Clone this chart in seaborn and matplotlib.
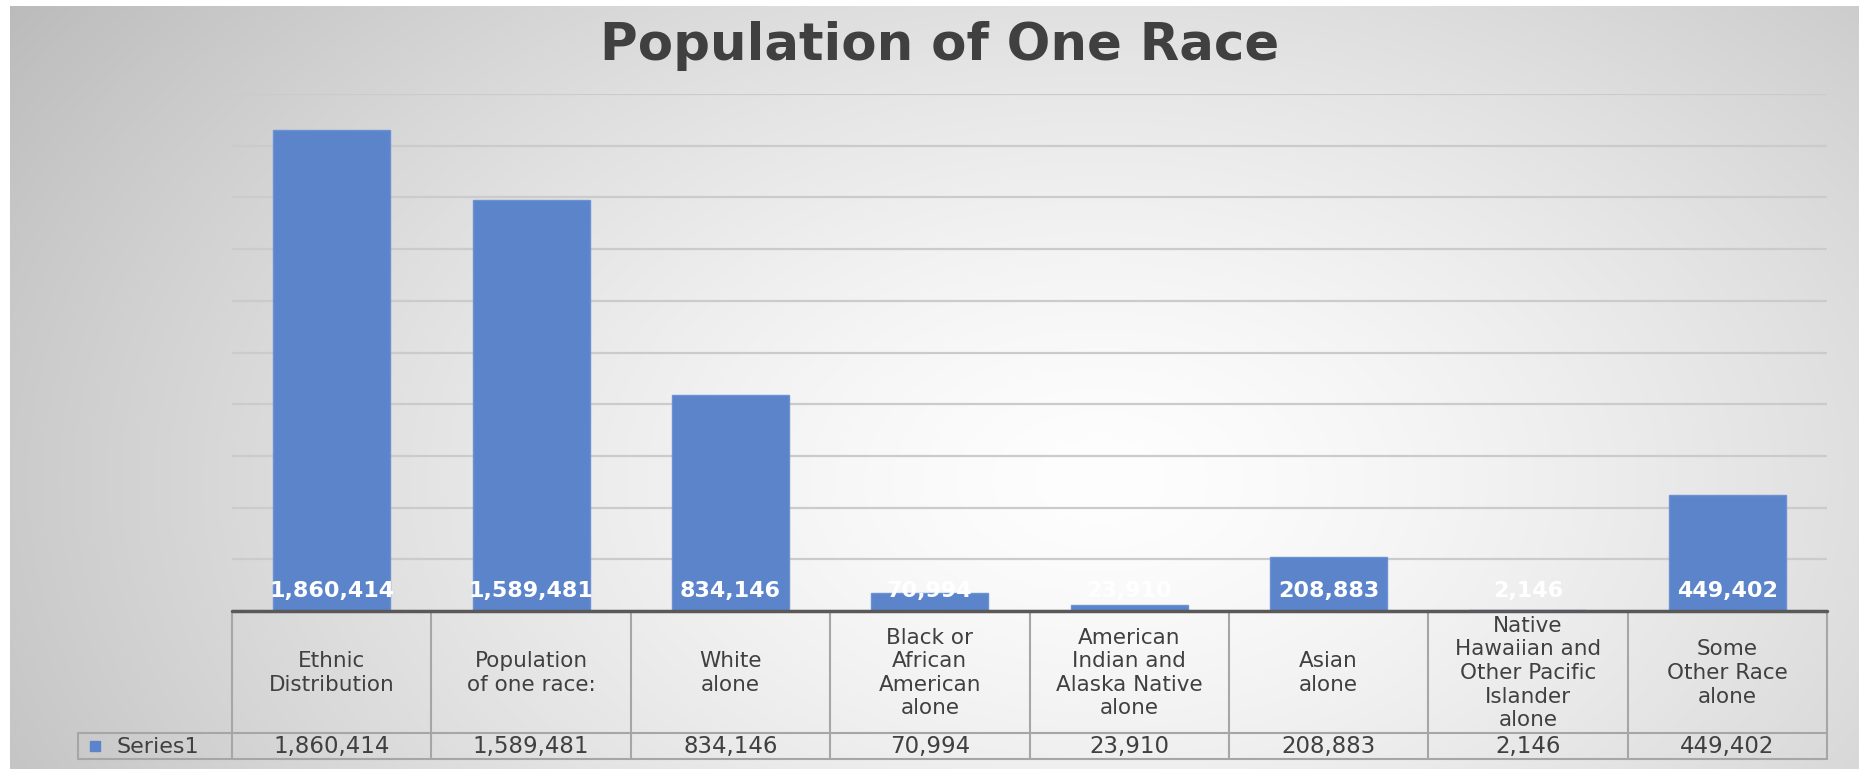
import numpy as np
import pandas as pd
import matplotlib
matplotlib.use("Agg")
import matplotlib.pyplot as plt
import seaborn as sns

# ---- data ----
categories = [
    "Ethnic\nDistribution",
    "Population\nof one race:",
    "White\nalone",
    "Black or\nAfrican\nAmerican\nalone",
    "American\nIndian and\nAlaska Native\nalone",
    "Asian\nalone",
    "Native\nHawaiian and\nOther Pacific\nIslander\nalone",
    "Some\nOther Race\nalone",
]
population = [1860414, 1589481, 834146, 70994, 23910, 208883, 2146, 449402]
series_name = "Series1"
title_text = "Population of One Race"

BAR_COLOR = "#5b84cb"
TEXT_COLOR = "#404040"
GRID_COLOR = "#cbcbcb"
TABLE_LINE = "#a6a6a6"

sns.set_theme(style="white")
plt.rcParams["font.family"] = ["DejaVu Sans"]

W, H = 1859, 769
fig = plt.figure(figsize=(W / 100, H / 100), dpi=100)
fig.patch.set_facecolor("white")

# ---- background gradient ----
bg = fig.add_axes([10 / W, 0, (W - 10) / W, (H - 6) / H])
yy, xx = np.mgrid[6:H, 10:W]
d = np.sqrt(((xx - 1100) / 1250.0) ** 2 + ((yy - 480) / 800.0) ** 2)
g = np.clip(254 - 62 * d ** 1.4, 185, 254) / 255.0
img = np.dstack([g, g, g])
bg.imshow(img, aspect="auto", interpolation="bilinear")
bg.set_axis_off()

# ---- main bar axes ----
px_left, px_right, px_top, px_base = 232, 1827, 94, 611
ax = fig.add_axes([px_left / W, 1 - px_base / H, (px_right - px_left) / W, (px_base - px_top) / H])
ax.patch.set_alpha(0)
df = pd.DataFrame({"category": categories, "population": population})
sns.barplot(data=df, x="category", y="population", color=BAR_COLOR, saturation=1,
            width=0.587, ax=ax, zorder=3, edgecolor="#6d92d4", linewidth=1.0)
ax.set_ylim(0, 2000000)
ax.set_xlim(-0.5, len(categories) - 0.5)
ax.set_yticks(np.arange(0, 2000001, 200000))
ax.yaxis.grid(True, color=GRID_COLOR, linewidth=1.6, zorder=0)
ax.set_axisbelow(True)
ax.tick_params(left=False, bottom=False, labelleft=False, labelbottom=False)
ax.set_xlabel("")
ax.set_ylabel("")
for s in ax.spines.values():
    s.set_visible(False)

for patch, v in zip(ax.patches, population):
    cx = patch.get_x() + patch.get_width() / 2
    ax.annotate(f"{v:,}", xy=(cx, 0), xytext=(0, 20), textcoords="offset pixels",
                ha="center", va="center", color="white", fontsize=16,
                fontweight="bold", zorder=5, annotation_clip=False)

# ---- title ----
fig.text(940 / W, 1 - 46 / H, title_text, ha="center", va="center",
         fontsize=37, fontweight="bold", color=TEXT_COLOR)

# ---- data table ----
t_left, t_top, t_mid, t_bot = 78, 611, 733, 759
unit = (px_right - px_left) / len(categories)
x_leg = -0.5 - (px_left - t_left) / unit
tax = fig.add_axes([t_left / W, 1 - t_bot / H, (px_right - t_left) / W, (t_bot - t_top) / H])
tax.set_xlim(x_leg, len(categories) - 0.5)
tax.set_ylim(t_bot, t_top)
tax.set_axis_off()
tax.patch.set_alpha(0)

n = len(categories)
for i in range(n + 1):
    tax.plot([i - 0.5, i - 0.5], [t_top, t_bot], color=TABLE_LINE, lw=1.5, clip_on=False)
tax.plot([x_leg, x_leg], [t_mid, t_bot], color=TABLE_LINE, lw=1.5, clip_on=False)
tax.plot([x_leg, n - 0.5], [t_mid, t_mid], color=TABLE_LINE, lw=1.5, clip_on=False)
tax.plot([x_leg, n - 0.5], [t_bot, t_bot], color=TABLE_LINE, lw=1.5, clip_on=False)
tax.plot([-0.5, n - 0.5], [t_top, t_top], color="#595959", lw=2.5, clip_on=False, zorder=6)

for i, (c, v) in enumerate(zip(categories, population)):
    tax.text(i, (t_top + t_mid) / 2 + 1, c, ha="center", va="center", fontsize=15.5,
             color=TEXT_COLOR, linespacing=1.22, multialignment="center")
    tax.text(i, (t_mid + t_bot) / 2 + 1, f"{v:,}", ha="center", va="center",
             fontsize=16.5, color=TEXT_COLOR)

tax.plot([x_leg + 17 / unit], [(t_mid + t_bot) / 2], marker="s", markersize=7.5,
         color=BAR_COLOR, linestyle="none", clip_on=False)
tax.text(x_leg + 38 / unit, (t_mid + t_bot) / 2 + 1, series_name, ha="left", va="center",
         fontsize=16, color=TEXT_COLOR)

fig.savefig("out.png", dpi=100, facecolor=fig.get_facecolor())
